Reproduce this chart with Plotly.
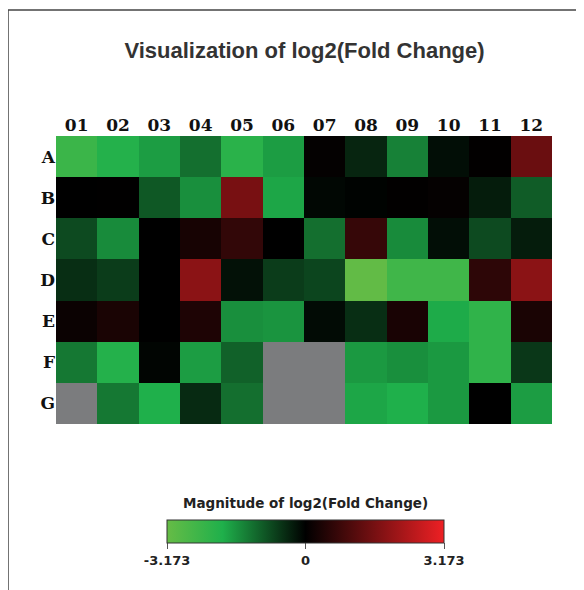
import plotly.graph_objects as go

columns = ["01", "02", "03", "04", "05", "06", "07", "08", "09", "10", "11", "12"]
rows = ["A", "B", "C", "D", "E", "F", "G"]
NA = None
values = [
    [-2.4, -2.0, -1.7, -1.2, -2.1, -1.7, 0.05, -0.4, -1.4, -0.15, 0.02, 1.41],
    [0.0, 0.01, -0.95, -1.55, 1.6, -1.8, -0.08, -0.03, 0.03, 0.06, -0.3, -1.0],
    [-0.8, -1.5, 0.0, 0.3, 0.67, 0.0, -1.2, 0.72, -1.5, -0.15, -0.8, -0.3],
    [-0.5, -0.65, 0.0, 1.85, -0.18, -0.65, -0.75, -3.1, -2.5, -2.5, 0.6, 1.85],
    [0.15, 0.35, 0.0, 0.4, -1.55, -1.6, -0.12, -0.5, 0.33, -1.85, -2.2, 0.35],
    [-1.3, -2.0, -0.05, -1.7, -1.05, NA, NA, -1.65, -1.55, -1.65, -2.2, -0.6],
    [NA, -1.3, -1.9, -0.45, -1.2, NA, NA, -1.8, -1.9, -1.65, 0.0, -1.7],
]
vmin, vmax = -3.173, 3.173
colorbar_ticks = [-3.173, 0, 3.173]
colorbar_ticktext = ["-3.173", "0", "3.173"]

colorscale = [
    [0.0, "#66bc46"],
    [0.2, "#1fb04b"],
    [0.5, "#000000"],
    [1.0, "#ee2024"],
]

# The page body adds an 8px margin; figure is sized/offset to compensate.
W, H = 576, 582
L, R, T, B = 48, 32, 128, 166
PW, PH = W - L - R, H - T - B


def px_to_paper_x(sx):
    return (sx - 8 - L) / PW


def px_to_paper_y(sy):
    return (H - B - (sy - 8)) / PH


fig = go.Figure(
    go.Heatmap(
        z=values,
        x=columns,
        y=rows,
        zmin=vmin,
        zmax=vmax,
        colorscale=colorscale,
        colorbar=dict(
            orientation="h",
            x=px_to_paper_x(305.5),
            xanchor="center",
            y=px_to_paper_y(520),
            yanchor="top",
            len=(444 - 167) / PW,
            lenmode="fraction",
            thickness=23,
            ypad=0,
            xpad=0,
            outlinewidth=1,
            outlinecolor="#333333",
            tickvals=colorbar_ticks,
            ticktext=colorbar_ticktext,
            ticks="outside",
            ticklen=6,
            tickcolor="#555555",
            tickfont=dict(family="DejaVu Sans", size=13, color="#222222", weight="bold"),
        ),
    )
)

fig.update_layout(
    width=W,
    height=H,
    margin=dict(l=L, r=R, t=T, b=B),
    paper_bgcolor="white",
    plot_bgcolor="#7b7c7e",
    title=dict(
        text="Visualization of log2(Fold Change)",
        x=px_to_paper_x(304.5) * PW / W + L / W,
        xanchor="center",
        y=1 - (50 - 8) / H,
        yanchor="middle",
        font=dict(family="Liberation Sans", size=22, color="#333333", weight="bold"),
    ),
    xaxis=dict(
        side="top",
        showgrid=False,
        zeroline=False,
        ticks="",
        tickfont=dict(family="DejaVu Serif", size=17, color="#111111", weight="bold"),
        ticklabelstandoff=1,
    ),
    yaxis=dict(
        autorange="reversed",
        showgrid=False,
        zeroline=False,
        ticks="",
        ticklabelstandoff=0,
        tickfont=dict(family="DejaVu Serif", size=17, color="#111111", weight="bold"),
    ),
    annotations=[
        dict(
            text="Magnitude of log2(Fold Change)",
            xref="paper",
            yref="paper",
            x=px_to_paper_x(305.5),
            y=px_to_paper_y(503),
            xanchor="center",
            yanchor="middle",
            showarrow=False,
            font=dict(family="DejaVu Sans", size=13.5, color="#222222", weight="bold"),
        )
    ],
    shapes=[
        dict(type="line", xref="paper", yref="paper",
             x0=px_to_paper_x(8), x1=px_to_paper_x(600),
             y0=px_to_paper_y(10), y1=px_to_paper_y(10),
             line=dict(color="#444444", width=1.5)),
        dict(type="line", xref="paper", yref="paper",
             x0=px_to_paper_x(8), x1=px_to_paper_x(8),
             y0=px_to_paper_y(10), y1=px_to_paper_y(600),
             line=dict(color="#444444", width=1.5)),
    ],
)

fig.write_html("out.html")
